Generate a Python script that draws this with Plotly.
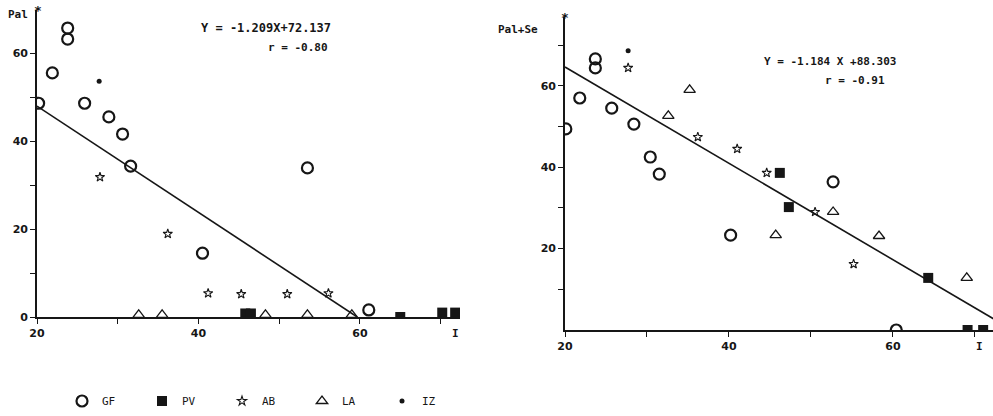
import plotly.graph_objects as go

# ---------------- data: left panel (Pal vs X) ----------------
gf1_x = [23.8, 23.8, 21.9, 20.2, 25.9, 28.9, 30.6, 31.6, 53.5, 40.5, 61.1]
gf1_y = [65.7, 63.2, 55.5, 48.6, 48.6, 45.5, 41.6, 34.3, 33.9, 14.5, 1.6]
pv1_x = [45.8, 46.5, 65.0, 70.2, 71.8]
pv1_y = [0.8, 0.8, 0.0, 1.0, 1.0]
ab1_x = [27.8, 36.2, 41.2, 45.3, 51.0, 56.1]
ab1_y = [31.8, 18.9, 5.4, 5.2, 5.2, 5.4]
la1_x = [32.6, 35.5, 48.3, 53.5, 59.0]
la1_y = [0.5, 0.5, 0.5, 0.5, 0.5]
iz1_x = [27.7]
iz1_y = [53.6]
slope1, icpt1 = -1.209, 72.137
r1 = -0.80

# ---------------- data: right panel (Pal+Se vs X) ----------------
gf2_x = [23.7, 23.7, 21.8, 20.1, 25.7, 28.4, 30.4, 31.5, 52.7, 40.2, 60.4]
gf2_y = [66.6, 64.4, 57.0, 49.4, 54.5, 50.6, 42.5, 38.3, 36.4, 23.3, 0.0]
pv2_x = [46.2, 47.3, 64.3, 69.1, 71.0]
pv2_y = [38.6, 30.2, 12.8, 0.0, 0.0]
ab2_x = [27.7, 36.2, 41.0, 44.6, 50.5, 55.2]
ab2_y = [64.4, 47.4, 44.5, 38.6, 29.0, 16.2]
la2_x = [35.2, 32.6, 52.7, 45.7, 58.3, 69.0]
la2_y = [59.0, 52.6, 29.0, 23.3, 23.1, 12.8]
iz2_x = [27.7]
iz2_y = [68.6]
slope2, icpt2 = -1.184, 88.303
r2 = -0.91

x_ticks = [20, 30, 40, 50, 60, 70]
x_ticktext = ["20", "", "40", "", "60", ""]
y1_ticks = [0, 10, 20, 30, 40, 50, 60]
y1_ticktext = ["0", "", "20", "", "40", "", "60"]
y2_ticks = [10, 20, 30, 40, 50, 60, 70]
y2_ticktext = ["", "20", "", "40", "", "60", ""]

W, H = 993, 416
def px(x):
    return x / W
def py(y):
    return 1 - y / H

INK = "#161616"
FONT = "DejaVu Sans Mono"
TFONT = "DejaVu Sans"

fig = go.Figure()

def add_panel(xa, ya, gfx, gfy, pvx, pvy, abx, aby, lax, lay, izx, izy, show):
    fig.add_trace(go.Scatter(x=gfx, y=gfy, mode="markers", name="GF", xaxis=xa, yaxis=ya,
                             showlegend=show, legendgroup="GF",
                             marker=dict(symbol="circle-open", size=11, color=INK, line=dict(width=2.2))))
    fig.add_trace(go.Scatter(x=pvx, y=pvy, mode="markers", name="PV", xaxis=xa, yaxis=ya,
                             showlegend=show, legendgroup="PV",
                             marker=dict(symbol="square", size=10, color=INK)))
    fig.add_trace(go.Scatter(x=abx, y=aby, mode="markers", name="AB", xaxis=xa, yaxis=ya,
                             showlegend=show, legendgroup="AB",
                             marker=dict(symbol="star-open", size=7, color=INK, line=dict(width=1.1))))
    fig.add_trace(go.Scatter(x=lax, y=lay, mode="markers", name="LA", xaxis=xa, yaxis=ya,
                             showlegend=show, legendgroup="LA",
                             marker=dict(symbol="triangle-up-open", size=10, color=INK, line=dict(width=1.3))))
    fig.add_trace(go.Scatter(x=izx, y=izy, mode="markers", name="IZ", xaxis=xa, yaxis=ya,
                             showlegend=show, legendgroup="IZ",
                             marker=dict(symbol="circle", size=5, color=INK)))

add_panel("x", "y", gf1_x, gf1_y, pv1_x, pv1_y, ab1_x, ab1_y, la1_x, la1_y, iz1_x, iz1_y, True)
add_panel("x2", "y2", gf2_x, gf2_y, pv2_x, pv2_y, ab2_x, ab2_y, la2_x, la2_y, iz2_x, iz2_y, False)

# regression lines from the printed equations
x0_1, x1_1 = 20, -icpt1 / slope1
fig.add_trace(go.Scatter(x=[x0_1, x1_1], y=[slope1 * x0_1 + icpt1, slope1 * x1_1 + icpt1],
                         mode="lines", xaxis="x", yaxis="y", showlegend=False, hoverinfo="skip",
                         line=dict(color=INK, width=1.6)))
x0_2, x1_2 = 20, -icpt2 / slope2
fig.add_trace(go.Scatter(x=[x0_2, x1_2], y=[slope2 * x0_2 + icpt2, slope2 * x1_2 + icpt2],
                         mode="lines", xaxis="x2", yaxis="y2", showlegend=False, hoverinfo="skip",
                         line=dict(color=INK, width=1.6)))

axis_common = dict(showgrid=False, zeroline=False, showline=True, linecolor=INK, linewidth=1.6,
                   ticks="outside", ticklen=5, tickwidth=1.2, tickcolor=INK, automargin=False,
                   tickfont=dict(family=TFONT, size=11, color=INK, weight="bold"))

fig.update_layout(
    template="none",
    width=W, height=H,
    margin=dict(l=0, r=0, t=0, b=0),
    paper_bgcolor="white", plot_bgcolor="white",
    xaxis=dict(domain=[px(37), px(460)], range=[20, 72.4], anchor="y",
               tickmode="array", tickvals=x_ticks, ticktext=x_ticktext, **axis_common),
    yaxis=dict(domain=[py(317), py(10)], range=[0, 69.8], anchor="x",
               tickmode="array", tickvals=y1_ticks, ticktext=y1_ticktext, **axis_common),
    xaxis2=dict(domain=[px(565), px(993)], range=[20, 72.2], anchor="y2",
                tickmode="array", tickvals=x_ticks, ticktext=x_ticktext, **axis_common),
    yaxis2=dict(domain=[py(330), py(17)], range=[0, 76.9], anchor="x2",
                tickmode="array", tickvals=y2_ticks, ticktext=y2_ticktext, **axis_common),
    showlegend=True,
    legend=dict(orientation="h", x=px(62), y=py(401), xanchor="left", yanchor="middle",
                font=dict(family=FONT, size=11, color=INK),
                entrywidth=35, entrywidthmode="pixels", itemwidth=30,
                bgcolor="rgba(0,0,0,0)"),
)

ann_font = dict(family=FONT, size=11, color=INK, weight="bold")
def ann(text, x, y, xref="paper", size=11):
    f = dict(ann_font)
    f["size"] = size
    return dict(text=text, x=x, y=y, xref=xref, yref="paper", showarrow=False,
                xanchor="center", yanchor="middle", font=f)

annotations = [
    ann("Pal", px(18), py(15)),
    ann("Pal+Se", px(518), py(30)),
    ann(f"Y = {slope1:.3f}X+{icpt1:.3f}", px(266), py(28), size=12),
    ann(f"r = {r1:.2f}", px(298), py(47)),
    ann(f"Y = {slope2:.3f} X +{icpt2:.3f}", px(830), py(61)),
    ann(f"r = {r2:.2f}", px(855), py(80)),
    ann("I", 71.8, py(333), xref="x"),
    ann("I", 70.6, py(346), xref="x2"),
    ann("*", px(38), py(10), size=13),
    ann("*", px(565), py(18), size=13),
]
fig.update_layout(annotations=annotations)

fig.write_html("out.html", config={"displayModeBar": False},
               post_script="document.body.style.margin='0';document.body.style.padding='0';")
